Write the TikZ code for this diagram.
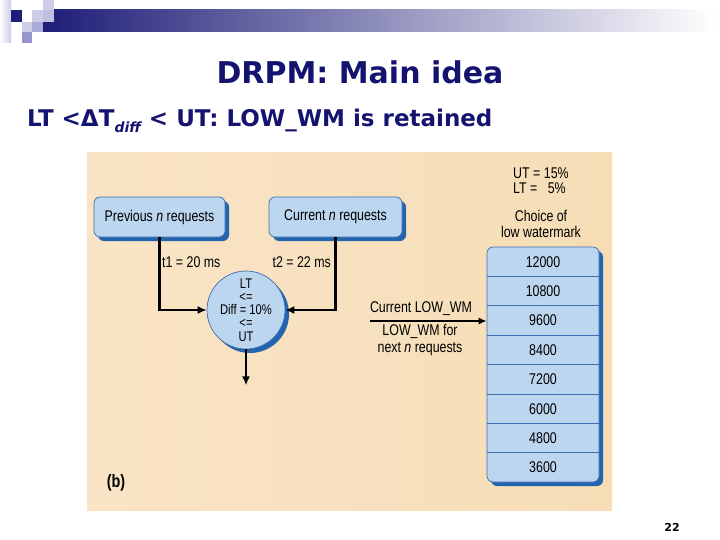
\documentclass[tikz,border=0pt]{standalone}
\usepackage{fontspec}
\setmainfont{Liberation Sans}
\newfontfamily\figfont[FakeStretch=0.8]{Liberation Sans}
\newfontfamily\headfont{DejaVu Sans}
\usetikzlibrary{arrows.meta, positioning, calc, shadows}
\definecolor{navy}{RGB}{20,20,112}
\definecolor{barnavy}{RGB}{30,30,120}
\definecolor{boxblue}{RGB}{189,214,240}
\definecolor{boxedge}{RGB}{60,110,175}
\definecolor{shadowblue}{RGB}{35,100,175}
\definecolor{peach}{RGB}{249,228,198}
\definecolor{peachdeep}{RGB}{246,221,182}
\definecolor{lavender}{RGB}{205,205,232}
\definecolor{lavmid}{RGB}{150,150,205}

\begin{document}
\begin{tikzpicture}[x=1pt, y=-1pt,
  every node/.style={inner sep=0pt, text=black, font=\figfont\fontsize{15.5}{17}\selectfont},
  bluebox/.style={draw=boxedge, line width=0.7pt, fill=boxblue, rounded corners=6pt,
    drop shadow={shadow xshift=4pt, shadow yshift=-4pt, fill=shadowblue, opacity=1}},
  link/.style={line width=2.2pt, -{Latex[length=9pt, width=8pt]}},
  thinlink/.style={line width=1.4pt, -{Latex[length=8pt, width=7pt]}},
]
  \useasboundingbox (0,0) rectangle (720,540);
  % slide header decoration
  \shade[left color=barnavy, middle color=barnavy!35, right color=white] (43,10) rectangle (715,32);
  \shade[left color=white, right color=lavender] (0,0) rectangle (11,43);
  \fill[barnavy] (11,10) rectangle (22,22);
  \fill[lavender] (32,10) rectangle (43,22);
  \fill[lavender] (43,0) rectangle (54,10);
  \fill[lavmid!60] (43,10) rectangle (54,22);
  \fill[lavender] (22,22) rectangle (32,32);
  \fill[lavmid!80] (32,22) rectangle (43,32);
  \fill[lavmid] (22,32) rectangle (32,43);
  \node[font=\headfont\bfseries\fontsize{30}{32}\selectfont, text=navy] (title) at (360,72) {DRPM: Main idea};
  \node[anchor=west, font=\headfont\bfseries\fontsize{23}{24}\selectfont, text=navy] (subtitle) at (27,121)
    {LT <ΔT\raisebox{-0.45ex}{\fontsize{14}{14}\selectfont\itshape diff} < UT: LOW\_WM is retained};
  % figure background
  \shade[left color=peach, right color=peachdeep] (87,153) rectangle (612,510);
  % request boxes
  \node[bluebox, minimum width=131pt, minimum height=40pt] (prev) at (159.5,217) {Previous \textit{n} requests};
  \node[bluebox, minimum width=133pt, minimum height=40pt] (curr) at (335.5,217) {Current \textit{n} requests};
  \node[anchor=west] (tone) at (162,262) {t1 = 20 ms};
  \node[anchor=east] (ttwo) at (331,262) {t2 = 22 ms};
  % difference test
  \node[bluebox, circle, minimum size=78pt] (diff) at (246,310) {};
  \node[align=center, font=\figfont\fontsize{14}{13.2}\selectfont] (difftxt) at (diff.center) {LT\\<=\\Diff = 10\%\\<=\\UT};
  \draw[link] (prev.south) |- (diff.west);
  \draw[link] (curr.south) |- (diff.east);
  \coordinate (out) at ($(diff.south)+(0,36)$);
  \draw[link] (diff.south) -- (out);
  % thresholds
  \node[anchor=west] (ut) at (513,173) {UT = 15\%};
  \node[anchor=west] (lt) at (513,188) {LT = \phantom{1}5\%};
  \node[align=center, font=\figfont\fontsize{15.5}{16}\selectfont] (choice) at (541,224) {Choice of\\low watermark};
  % watermark column
  \node[bluebox, minimum width=112pt, minimum height=235pt] (wmcol) at (543,364.5) {};
  \foreach \v [count=\i] in {12000,10800,9600,8400,7200,6000,4800,3600} {
    \node (wm\i) at (543, 247+29.4*\i-14.7) {\v};
  }
  \foreach \i in {1,...,7} {
    \draw[boxedge, line width=0.8pt] (wmcol.west |- 0,247+29.4*\i) -- (wmcol.east |- 0,247+29.4*\i);
  }
  % current low watermark
  \coordinate (wmstart) at (370,321);
  \draw[thinlink] (wmstart) -- (wmstart -| wmcol.west);
  \node (curwm) at (421,309) {Current LOW\_WM};
  \node[align=center] (nextwm) at (420,340) {LOW\_WM for\\next \textit{n} requests};
  \node[font=\figfont\bfseries\fontsize{18}{18}\selectfont] (figb) at (116,483) {(b)};
  \node[font=\headfont\bfseries\fontsize{11}{12}\selectfont] (pagenum) at (672,527) {22};
\end{tikzpicture}
\end{document}
